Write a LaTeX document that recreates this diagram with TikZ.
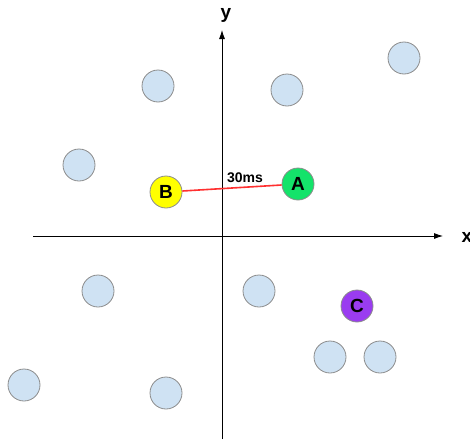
\documentclass[tikz,border=0pt]{standalone}
\usepackage{fontspec}
\setmainfont{Liberation Sans}
\usetikzlibrary{arrows.meta}
\definecolor{dotfill}{HTML}{CFE2F3}
\definecolor{dotline}{HTML}{8C8C8C}
\definecolor{agreen}{HTML}{14E36A}
\definecolor{byellow}{HTML}{FFFF00}
\definecolor{cpurple}{HTML}{9A3CF0}
\definecolor{linkred}{HTML}{FF3030}
\begin{document}
\begin{tikzpicture}[x=1pt,y=-1pt,
  dot/.style={circle,draw=dotline,line width=0.8pt,fill=dotfill,minimum size=32pt,inner sep=0pt},
  peer/.style={circle,draw=dotline,line width=0.8pt,minimum size=32pt,inner sep=0pt,font=\bfseries\fontsize{19}{19}\selectfont},
  axis/.style={line width=0.8pt,-{Latex[length=9pt,width=6pt]}},
  lbl/.style={font=\bfseries\fontsize{19}{19}\selectfont,inner sep=0pt}]
\useasboundingbox (0,0) rectangle (470,439);
\coordinate (xs) at (33,236);
\coordinate (xe) at (443,236);
\coordinate (ys) at (222,439);
\coordinate (ye) at (222,30);
\draw[axis] (xs) -- (xe);
\draw[axis] (ys) -- (ye);
\node[lbl] (xl) at (467,237) {x};
\node[lbl] (yl) at (226,15) {y};
\node[dot] (d1) at (158,86) {};
\node[dot] (d2) at (287,90) {};
\node[dot] (d3) at (404,58) {};
\node[dot] (d4) at (79,165) {};
\node[dot] (d5) at (98,291) {};
\node[dot] (d6) at (259,291) {};
\node[dot] (d7) at (330,357) {};
\node[dot] (d8) at (380,357) {};
\node[dot] (d9) at (24,385) {};
\node[dot] (d10) at (166,393) {};
\node[peer,fill=byellow] (B) at (166,192) {B};
\node[peer,fill=agreen] (A) at (298,184) {A};
\node[peer,fill=cpurple] (C) at (357,306) {C};
\draw[linkred,line width=1.6pt] (B) -- (A);
\node[font=\bfseries\fontsize{14}{14}\selectfont,inner sep=0pt] (lat) at (245,178) {30ms};
\end{tikzpicture}
\end{document}
